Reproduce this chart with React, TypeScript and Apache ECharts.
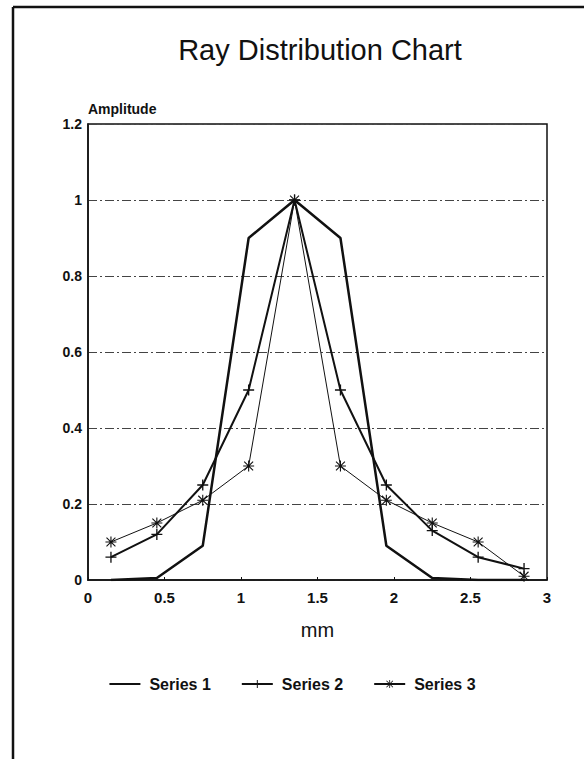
import React, { useEffect, useRef } from "react";
import * as echarts from "echarts";

const xValues = [0.15, 0.45, 0.75, 1.05, 1.35, 1.65, 1.95, 2.25, 2.55, 2.85];
const series1 = [0, 0.005, 0.09, 0.9, 1.0, 0.9, 0.09, 0.005, 0, 0];
const series2 = [0.06, 0.12, 0.25, 0.5, 1.0, 0.5, 0.25, 0.13, 0.06, 0.03];
const series3 = [0.1, 0.15, 0.21, 0.3, 1.0, 0.3, 0.21, 0.15, 0.1, 0.01];
const seriesNames = ["Series 1", "Series 2", "Series 3"];

const plusSymbol = "path://M0,4.4H10V5.6H0Z M4.4,0H5.6V10H4.4Z";
const starSymbol =
  "path://M0,4.5H10V5.5H0Z M4.5,0H5.5V10H4.5Z M1.3,0.6L9.4,8.7L8.7,9.4L0.6,1.3Z M8.7,0.6L9.4,1.3L1.3,9.4L0.6,8.7Z";

const FONT = "Arial, 'Liberation Sans', Helvetica, sans-serif";

export default function App() {
  const ref = useRef<HTMLDivElement>(null);
  useEffect(() => {
    if (!ref.current) return;
    const chart = echarts.init(ref.current, undefined, { renderer: "svg" });
    const pair = (ys: number[]) => xValues.map((x, i) => [x, ys[i]]);
    chart.setOption({
      animation: false,
      backgroundColor: "#ffffff",
      title: {
        text: "Ray Distribution Chart",
        left: 315,
        textAlign: "center",
        top: 30,
        textStyle: { fontFamily: FONT, fontSize: 29, fontWeight: "normal", color: "#111" },
      },
      legend: {
        data: [
          { name: seriesNames[0], itemStyle: { opacity: 0 } },
          { name: seriesNames[1] },
          { name: seriesNames[2] },
        ],
        left: "center",
        top: 671,
        itemWidth: 31,
        itemHeight: 10,
        itemGap: 30,
        textStyle: {
          fontFamily: FONT,
          fontSize: 16,
          fontWeight: "bold",
          color: "#111",
          padding: [0, 0, 0, 4],
        },
      },
      grid: {
        left: 88,
        right: 37,
        top: 124,
        bottom: 179,
        show: true,
        borderColor: "#111",
        borderWidth: 1.5,
      },
      xAxis: {
        type: "value",
        min: 0,
        max: 3,
        interval: 0.5,
        name: "mm",
        nameLocation: "middle",
        nameGap: 40,
        nameTextStyle: { fontFamily: FONT, fontSize: 20, color: "#111" },
        axisLine: { lineStyle: { color: "#111", width: 1.5 } },
        axisTick: { show: true, inside: true, length: 3, lineStyle: { color: "#111" } },
        splitLine: { show: false },
        axisLabel: {
          fontFamily: FONT,
          fontSize: 15,
          fontWeight: "bold",
          color: "#111",
          margin: 10,
        },
      },
      yAxis: {
        type: "value",
        min: 0,
        max: 1.2,
        interval: 0.2,
        name: "Amplitude",
        nameLocation: "end",
        nameGap: 8,
        nameTextStyle: {
          fontFamily: FONT,
          fontSize: 14,
          fontWeight: "bold",
          color: "#111",
          align: "left",
        },
        axisLine: { lineStyle: { color: "#111", width: 1.5 } },
        axisTick: { show: false },
        splitLine: {
          show: true,
          lineStyle: { color: "#444", width: 1, type: [9, 3, 2, 3] },
        },
        axisLabel: {
          fontFamily: FONT,
          fontSize: 14,
          fontWeight: "bold",
          color: "#111",
          margin: 6,
        },
      },
      graphic: [
        {
          type: "line",
          shape: { x1: 13, y1: 7, x2: 584, y2: 7 },
          style: { stroke: "#111", lineWidth: 2.5 },
        },
        {
          type: "line",
          shape: { x1: 13, y1: 7, x2: 13, y2: 759 },
          style: { stroke: "#111", lineWidth: 2.5 },
        },
      ],
      series: [
        {
          name: seriesNames[0],
          type: "line",
          data: pair(series1),
          showSymbol: false,
          symbol: "none",
          lineStyle: { color: "#111", width: 2.5 },
          itemStyle: { color: "#111" },
        },
        {
          name: seriesNames[1],
          type: "line",
          data: pair(series2),
          symbol: plusSymbol,
          symbolSize: 11,
          lineStyle: { color: "#111", width: 2 },
          itemStyle: { color: "#111" },
        },
        {
          name: seriesNames[2],
          type: "line",
          data: pair(series3),
          symbol: starSymbol,
          symbolSize: 11,
          lineStyle: { color: "#111", width: 1 },
          itemStyle: { color: "#111" },
        },
      ],
    });
    return () => chart.dispose();
  }, []);
  return (
    <div
      ref={ref}
      style={{ position: "absolute", left: 0, top: 0, width: 584, height: 759 }}
    />
  );
}
